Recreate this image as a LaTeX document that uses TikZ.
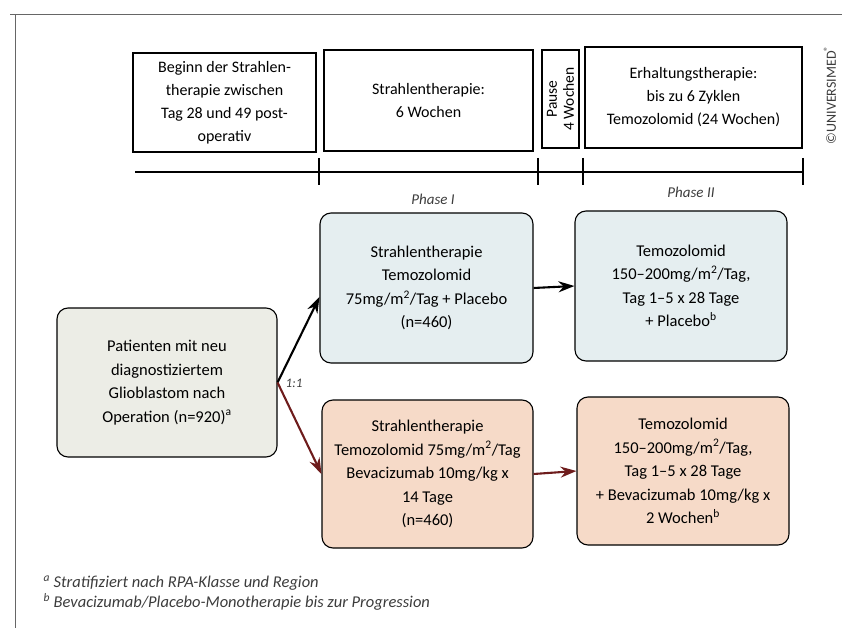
\documentclass[tikz,border=0pt]{standalone}
\usepackage{fontspec}
\setmainfont{Carlito}
\usetikzlibrary{arrows.meta}
\definecolor{armblue}{RGB}{229,238,240}
\definecolor{armred}{RGB}{246,218,200}
\definecolor{patgray}{RGB}{236,237,230}
\definecolor{darkred}{RGB}{110,28,28}
\definecolor{inkgray}{RGB}{60,60,60}
\newcommand\hochs[1]{\textsuperscript{#1}}

\begin{document}
\begin{tikzpicture}[x=1pt,y=-1pt,
  topbox/.style={draw, line width=1.1pt, align=center, inner sep=0pt,
    font=\fontsize{16}{23}\selectfont},
  flowbox/.style={draw, line width=1.1pt, rounded corners=11pt, align=center,
    inner sep=0pt, minimum width=212pt, minimum height=149pt,
    font=\fontsize{16.5}{23.5}\selectfont},
  arm/.style={-{Stealth[length=16pt,width=11pt]}, line width=2.1pt},
  note/.style={font=\fontsize{15}{17}\selectfont\itshape, text=inkgray},
  fnote/.style={font=\fontsize{16.5}{18}\selectfont\itshape, text=inkgray, anchor=west}]
  \useasboundingbox (0,0) rectangle (842,628);

  % frame
  \draw [gray!80!black, line width=1pt] (10,15) -- (842,15);
  \draw [gray!80!black, line width=1pt] (15,15) -- (15,628);

  % time line on top
  \node (begin)  [topbox, minimum width=183pt, minimum height=99pt] at (224.5,102.5)
    {Beginn der Strahlen-\\therapie zwischen\\Tag 28 und 49 post-\\operativ};
  \node (strahl) [topbox, minimum width=209pt, minimum height=101pt] at (428.5,100.5)
    {Strahlentherapie:\\6 Wochen};
  \node (pause)  [topbox, rotate=90, minimum width=98pt, minimum height=37pt,
    font=\fontsize{15.5}{17}\selectfont] at (560.5,99)
    {Pause\\4 Wochen};
  \node (erhalt) [topbox, minimum width=217pt, minimum height=101pt] at (693.5,97.5)
    {Erhaltungstherapie:\\bis zu 6 Zyklen\\Temozolomid (24 Wochen)};

  \draw [line width=1.3pt] (135,172) -- (803,172);
  \foreach \x in {319,538,583,803}
    \draw [line width=1.1pt] (\x,158) -- (\x,185);
  \node (ph1) [note] at (433,199) {Phase I};
  \node (ph2) [note] at (691,192) {Phase II};

  % arms
  \node (pat)   [flowbox, fill=patgray, minimum width=220pt] at (167,382.5)
    {Patienten mit neu\\diagnostiziertem\\Glioblastom nach\\Operation (n=920)\hochs{a}};
  \node (blue1) [flowbox, fill=armblue, minimum width=213pt, minimum height=150pt] at (426.5,288)
    {Strahlentherapie\\Temozolomid\\75mg/m\hochs{2}/Tag + Placebo\\(n=460)};
  \node (blue2) [flowbox, fill=armblue, minimum height=150pt] at (681,286)
    {Temozolomid\\150–200mg/m\hochs{2}/Tag,\\Tag 1–5 x 28 Tage\\+ Placebo\hochs{b}};
  \node (red1)  [flowbox, fill=armred, minimum width=211pt, minimum height=148pt] at (427.5,474)
    {Strahlentherapie\\Temozolomid 75mg/m\hochs{2}/Tag\\Bevacizumab 10mg/kg x\\14 Tage\\(n=460)};
  \node (red2)  [flowbox, fill=armred, minimum height=148pt] at (683,471)
    {Temozolomid\\150–200mg/m\hochs{2}/Tag,\\Tag 1–5 x 28 Tage\\+ Bevacizumab 10mg/kg x\\2 Wochen\hochs{b}};

  \draw [arm] (pat.east) -- ([yshift=-9pt]blue1.west);
  \draw [arm, darkred] (pat.east) -- (red1.west);
  \node (ratio) [note, font=\fontsize{13}{15}\selectfont\itshape] at (294,383) {1:1};
  \draw [arm] (blue1.east) -- (blue2.west);
  \draw [arm, darkred] (red1.east) -- (red2.west);

  % footnotes
  \node (fna) [fnote] at (40,583) {\hochs{a} Stratifiziert nach RPA-Klasse und Region};
  \node (fnb) [fnote] at (40,602) {\hochs{b} Bevacizumab/Placebo-Monotherapie bis zur Progression};

  \node (copy) [rotate=90, font=\fontsize{14}{16}\selectfont, text=inkgray] at (830,95)
    {©UNIVERSIMED\hochs{®}};
\end{tikzpicture}
\end{document}
